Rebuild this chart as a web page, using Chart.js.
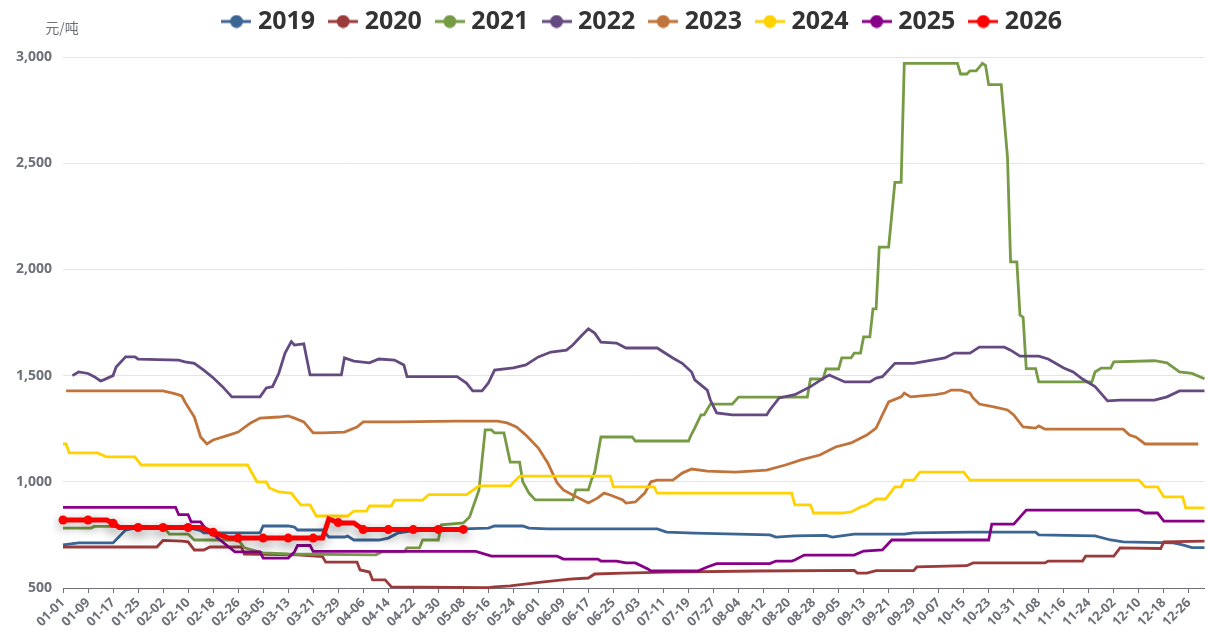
<!DOCTYPE html>
<html>
<head>
<meta charset="utf-8">
<script src="https://cdn.jsdelivr.net/npm/chart.js@4.4.1/dist/chart.umd.min.js"></script>
<style>
html, body { margin: 0; padding: 0; background: #fff; }
#wrap { width: 1209px; height: 637px; position: relative; }
</style>
</head>
<body>
<div id="wrap"><canvas id="chart"></canvas></div>
<script>
// x categories: every day of a leap year, MM-DD
const monthDays = [31, 29, 31, 30, 31, 30, 31, 31, 30, 31, 30, 31];
const days = [];
monthDays.forEach((n, m) => {
    for (let d = 1; d <= n; d++) {
        days.push(String(m + 1).padStart(2, '0') + '-' + String(d).padStart(2, '0'));
    }
});

const years = ['2019', '2020', '2021', '2022', '2023', '2024', '2025', '2026'];
const yTicks = [500, 1000, 1500, 2000, 2500, 3000];

// [day index, 元/吨] at each change of level
const s2019 = [[0,703],[5,712],[16,712],[20,773],[24,785],[40,785],[44,770],[45,760],[63,760],[64,792],[72,792],[74,787],[75,773],[83,773],[85,740],[90,740],[91,745],[93,726],[101,726],[104,735],[107,758],[113,773],[120,778],[128,778],[136,782],[138,792],[147,792],[149,782],[155,778],[190,778],[193,763],[202,758],[226,750],[228,740],[234,745],[244,748],[246,740],[253,754],[269,754],[272,760],[290,763],[311,763],[312,750],[330,745],[335,726],[339,717],[355,712],[358,703],[361,690],[365,690]];
const s2020 = [[0,693],[30,693],[32,724],[38,721],[40,717],[42,679],[45,679],[47,693],[57,693],[58,660],[75,656],[83,648],[84,622],[94,622],[95,585],[98,575],[99,538],[103,538],[105,505],[136,502],[138,505],[143,510],[153,528],[162,542],[168,547],[170,566],[179,570],[193,575],[222,580],[253,583],[254,570],[257,570],[260,582],[272,582],[273,599],[289,605],[291,618],[314,618],[315,627],[326,627],[327,650],[336,650],[338,689],[351,686],[352,717],[365,721]];
const s2021 = [[0,782],[9,782],[10,790],[32,790],[34,754],[40,754],[42,726],[56,726],[58,689],[64,665],[72,660],[100,656],[102,670],[109,670],[110,689],[114,689],[115,726],[120,726],[121,797],[128,806],[130,834],[133,960],[135,1244],[137,1244],[138,1230],[141,1230],[143,1093],[146,1093],[147,1000],[149,947],[151,915],[163,915],[164,962],[168,962],[169,1010],[170,1045],[172,1211],[182,1211],[183,1192],[200,1192],[201,1225],[202,1253],[204,1315],[205,1315],[207,1366],[214,1366],[216,1399],[238,1399],[239,1484],[243,1484],[244,1531],[248,1531],[249,1583],[252,1583],[253,1606],[255,1606],[256,1682],[258,1682],[259,1814],[260,1814],[261,2105],[264,2105],[266,2410],[268,2410],[269,2970],[286,2970],[287,2920],[289,2920],[290,2935],[292,2935],[294,2970],[295,2960],[296,2870],[300,2870],[302,2530],[303,2035],[305,2035],[306,1785],[307,1775],[308,1533],[311,1533],[312,1470],[329,1470],[330,1517],[332,1535],[335,1535],[336,1565],[349,1570],[353,1560],[357,1517],[361,1510],[365,1485]];
const s2022 = [[3,1500],[5,1517],[8,1510],[10,1495],[12,1475],[13,1480],[16,1500],[17,1540],[20,1588],[23,1588],[24,1578],[37,1573],[39,1565],[42,1558],[45,1526],[48,1490],[51,1448],[54,1400],[63,1400],[65,1442],[67,1448],[69,1511],[71,1606],[73,1660],[74,1644],[77,1650],[79,1503],[89,1503],[90,1583],[93,1568],[98,1560],[101,1578],[106,1573],[109,1550],[110,1495],[126,1495],[129,1465],[131,1428],[134,1428],[136,1465],[138,1526],[144,1536],[148,1550],[152,1588],[156,1611],[161,1620],[163,1644],[166,1691],[168,1720],[170,1700],[172,1658],[177,1653],[180,1630],[190,1630],[192,1611],[195,1583],[198,1558],[201,1517],[202,1480],[206,1432],[207,1385],[209,1324],[214,1315],[225,1315],[226,1338],[229,1395],[234,1410],[239,1448],[244,1495],[245,1503],[250,1470],[258,1470],[260,1488],[262,1495],[266,1558],[272,1558],[282,1583],[285,1606],[290,1606],[293,1634],[301,1634],[303,1620],[306,1592],[312,1592],[315,1578],[320,1536],[323,1517],[326,1484],[330,1448],[334,1381],[338,1385],[349,1385],[353,1400],[357,1428],[365,1428]];
const s2023 = [[1,1428],[32,1428],[36,1414],[38,1404],[39,1376],[42,1305],[44,1211],[46,1178],[48,1197],[53,1220],[56,1234],[60,1277],[63,1300],[69,1305],[72,1310],[74,1300],[77,1282],[80,1230],[83,1230],[90,1234],[94,1258],[96,1282],[107,1282],[126,1286],[139,1286],[142,1277],[145,1258],[148,1220],[152,1159],[155,1089],[158,995],[160,962],[163,938],[168,900],[171,924],[173,947],[175,938],[179,914],[180,900],[183,905],[186,947],[188,1000],[190,1008],[195,1008],[198,1041],[201,1060],[206,1050],[215,1046],[225,1055],[231,1079],[236,1103],[242,1126],[247,1164],[252,1183],[257,1220],[260,1253],[262,1315],[264,1376],[268,1400],[269,1418],[271,1400],[279,1410],[282,1418],[284,1432],[287,1432],[290,1418],[291,1395],[293,1366],[298,1352],[302,1338],[304,1315],[307,1258],[311,1253],[312,1263],[314,1248],[339,1248],[341,1220],[343,1211],[346,1178],[363,1178]];
const s2024 = [[0,1178],[1,1178],[2,1136],[11,1136],[14,1117],[23,1117],[25,1079],[59,1079],[62,1000],[65,1000],[66,971],[69,952],[73,947],[76,891],[79,891],[81,839],[91,839],[93,862],[97,862],[98,886],[105,886],[106,914],[115,914],[117,940],[129,940],[131,960],[133,981],[143,981],[146,1027],[175,1027],[176,976],[189,976],[190,947],[233,947],[234,891],[239,891],[240,853],[249,853],[252,858],[255,881],[257,891],[258,900],[260,919],[263,919],[266,976],[268,976],[269,1008],[272,1008],[274,1046],[288,1046],[290,1008],[344,1008],[346,976],[350,976],[352,929],[358,929],[359,877],[365,877]];
const s2025 = [[0,880],[36,880],[37,845],[40,845],[41,811],[44,811],[45,790],[47,765],[53,693],[55,670],[63,670],[64,641],[72,641],[74,670],[75,700],[79,700],[80,672],[132,672],[137,650],[158,650],[160,636],[171,636],[172,627],[177,627],[180,618],[183,618],[187,590],[188,580],[203,580],[206,599],[209,615],[226,615],[228,627],[233,627],[234,632],[237,655],[253,655],[256,674],[262,679],[265,726],[296,726],[297,801],[304,801],[306,834],[308,867],[344,867],[346,853],[350,853],[352,815],[365,815]];
const s2026 = [[0,820],[8,820],[14,820],[16,805],[18,785],[24,785],[32,785],[40,785],[44,785],[48,762],[53,735],[56,735],[64,735],[72,735],[80,735],[83,735],[85,825],[88,808],[89,806],[93,806],[96,775],[104,775],[112,775],[120,776],[128,776]];

const seriesData = [s2019, s2020, s2021, s2022, s2023, s2024, s2025, s2026];
const colors = ['#3b6594', '#9b3a3a', '#779a44', '#644a80', '#c0733a', '#ffd200', '#880088', '#ff0000'];

const toPoints = arr => arr.map(p => ({ x: days[p[0]], y: p[1] }));

// legend icon: short line with a dot in the middle
function legendIcon(color) {
    const cv = document.createElement('canvas');
    cv.width = 30;
    cv.height = 14;
    const g = cv.getContext('2d');
    g.strokeStyle = color;
    g.lineWidth = 3;
    g.beginPath();
    g.moveTo(0, 7);
    g.lineTo(30, 7);
    g.stroke();
    g.fillStyle = color;
    g.beginPath();
    g.arc(15, 7, 6.5, 0, Math.PI * 2);
    g.fill();
    return cv;
}
const icons = colors.map(legendIcon);

const datasets = years.map((y, i) => {
    const last = i === years.length - 1;
    return {
        label: y,
        data: toPoints(seriesData[i]),
        borderColor: colors[i],
        backgroundColor: colors[i],
        borderWidth: last ? 5 : 2.8,
        tension: 0,
        order: years.length - 1 - i,
        clip: last ? 10 : 2,
        pointRadius: last ? (ctx => (ctx.raw && days.indexOf(ctx.raw.x) % 8 === 0 ? 4.5 : 0)) : 0,
        pointHoverRadius: 0,
        pointBorderWidth: 0
    };
});

// fixed legend band height, nudged a little right like the original
const legendBox = {
    id: 'legendBox',
    beforeInit(chart) {
        const fit = chart.legend.fit;
        chart.legend.fit = function () {
            fit.call(this);
            this.height = 67;
        };
    },
    afterLayout(chart) {
        chart.legend.left += 11;
        chart.legend.right += 11;
    }
};

const redShadow = {
    id: 'redShadow',
    beforeDatasetDraw(chart, args) {
        if (args.index === years.length - 1) {
            chart.ctx.save();
            chart.ctx.shadowColor = 'rgba(0, 0, 0, 0.35)';
            chart.ctx.shadowBlur = 12;
            chart.ctx.shadowOffsetY = 4;
        }
    },
    afterDatasetDraw(chart, args) {
        if (args.index === years.length - 1) chart.ctx.restore();
    }
};

const unitLabel = {
    id: 'unitLabel',
    afterDraw(chart) {
        const c = chart.ctx;
        c.save();
        c.font = '14px "Noto Sans CJK SC", sans-serif';
        c.fillStyle = '#6e7079';
        c.textAlign = 'center';
        c.textBaseline = 'middle';
        c.fillText('元/吨', chart.chartArea.left - 1, 28);
        c.restore();
    }
};

new Chart(document.getElementById('chart'), {
    type: 'line',
    data: { labels: days, datasets: datasets },
    options: {
        responsive: true,
        maintainAspectRatio: false,
        animation: false,
        layout: { padding: { top: -10, left: 0, right: 0, bottom: 0 } },
        plugins: {
            legend: {
                position: 'top',
                fullSize: false,
                labels: {
                    usePointStyle: true,
                    pointStyleWidth: 18,
                    padding: 19,
                    color: '#333',
                    font: { family: '"Noto Sans", sans-serif', size: 25, weight: 'bold' },
                    sort: (a, b) => a.datasetIndex - b.datasetIndex,
                    generateLabels(chart) {
                        const items = Chart.defaults.plugins.legend.labels.generateLabels(chart);
                        items.forEach(it => { it.pointStyle = icons[it.datasetIndex]; });
                        return items;
                    }
                }
            },
            tooltip: { enabled: false }
        },
        scales: {
            x: {
                type: 'category',
                offset: false,
                afterFit: s => { s.height = 49; },
                grid: { drawOnChartArea: false, drawTicks: true, tickLength: 5, color: '#6e7079' },
                border: { display: true, color: '#6e7079', width: 1 },
                ticks: {
                    autoSkip: false,
                    maxRotation: 45,
                    minRotation: 45,
                    padding: 2,
                    color: '#6e7079',
                    font: { family: '"Open Sans", sans-serif', size: 13, weight: 'bold' },
                    callback: (v, i) => (i % 8 === 0 ? days[i] : null)
                }
            },
            y: {
                min: yTicks[0],
                max: yTicks[yTicks.length - 1],
                afterFit: s => { s.width = 63; },
                afterBuildTicks: s => { s.ticks = yTicks.map(v => ({ value: v })); },
                grid: { color: '#e0e6f1', drawTicks: false },
                border: { display: false },
                ticks: {
                    padding: 11,
                    color: '#6e7079',
                    font: { family: '"Open Sans", sans-serif', size: 14, weight: 'bold' },
                    callback: v => v.toLocaleString('en-US')
                }
            }
        }
    },
    plugins: [legendBox, redShadow, unitLabel]
});
</script>
</body>
</html>
